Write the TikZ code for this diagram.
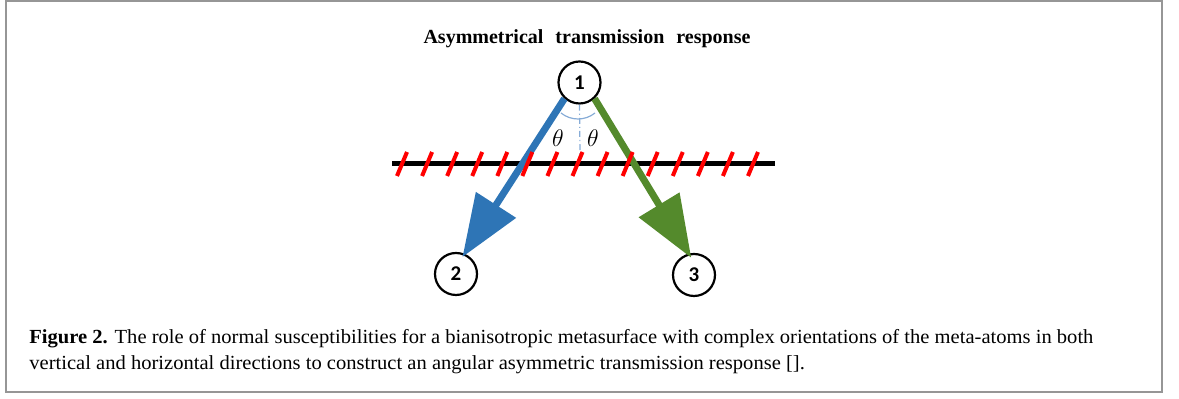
\documentclass[tikz,border=0pt]{standalone}
\usepackage{fontspec}
\setmainfont{Liberation Serif}
\newfontfamily\numfont{Carlito}
\usetikzlibrary{arrows.meta}
\definecolor{beamblue}{RGB}{46,117,182}
\definecolor{beamgreen}{RGB}{84,138,44}
\definecolor{guideblue}{RGB}{135,172,215}
\definecolor{framegray}{RGB}{150,150,150}
\newsavebox\caplineA
\newsavebox\caplineB
\newlength\caplenA
\begin{document}
\sbox\caplineA{\fontsize{10}{12}\selectfont\textbf{Figure 2.} The role of normal susceptibilities for a bianisotropic metasurface with complex orientations of the meta-atoms in both}%
\sbox\caplineB{\fontsize{10}{12}\selectfont vertical and horizontal directions to construct an angular asymmetric transmission response [].}%
\setlength\caplenA{\wd\caplineA}%
\pgfmathsetmacro\capsx{532/\caplenA}%
\begin{tikzpicture}[x=0.5pt,y=-0.5pt,
  port/.style={circle,draw=black,line width=1.1pt,minimum size=21pt,inner sep=0pt,
    font=\numfont\bfseries\fontsize{10.5}{12}\selectfont},
  beam/.style={line width=3.5pt,-{Triangle[length=31pt,width=23pt]}},
  surface/.style={line width=2.5pt,black},
  hatch/.style={line width=2pt,red},
  guide/.style={guideblue,line width=0.6pt},
  anglelbl/.style={font=\fontsize{12.5}{14}\selectfont,inner sep=0pt}]
\useasboundingbox (0,0) rectangle (1179,399);
\draw[framegray,line width=1pt] (6,1.5) rectangle (1162,392);

% title
\node[font=\bfseries\fontsize{10}{12}\selectfont,anchor=base] (title) at (587,44)
  {Asymmetrical\hspace{6pt}transmission\hspace{6pt}response};

% ports
\node[port] (p1) at (579.5,82.5) {1};
\node[port] (p2) at (456,274) {2};
\node[port] (p3) at (694,275) {3};

% metasurface line
\coordinate (sl) at (392,164);
\coordinate (sr) at (775,164);
\draw[surface] (sl) -- (sr);

% normal and angle marks
\coordinate (nend) at (580,155);
\draw[guide,dash pattern=on 3pt off 1.5pt on 0.6pt off 1.5pt] (p1.south) -- (nend);
\draw[guide] (578,92) ++(129:27) arc[start angle=129,end angle=51,radius=27];
\node[anglelbl] (thL) at (558,138) {$\theta$};
\node[anglelbl] (thR) at (593,138) {$\theta$};

% beams
\draw[beam,beamblue,shorten >=-2pt] (p1.227) -- (p2.67);
\draw[beam,beamgreen,shorten >=-2.5pt] (p1.313) -- (p3.104.5);

% hatches
\foreach \k in {0,...,14}{
  \pgfmathsetmacro\tx{402+25.07*\k}
  \draw[hatch] (\tx-5,176) -- (\tx+5,152);
}

% caption
\node[anchor=base west,inner sep=0pt] (capA) at (29,344) {\scalebox{\capsx}[1]{\usebox\caplineA}};
\node[anchor=base west,inner sep=0pt] (capB) at (29,370) {\scalebox{\capsx}[1]{\usebox\caplineB}};
\end{tikzpicture}
\end{document}
